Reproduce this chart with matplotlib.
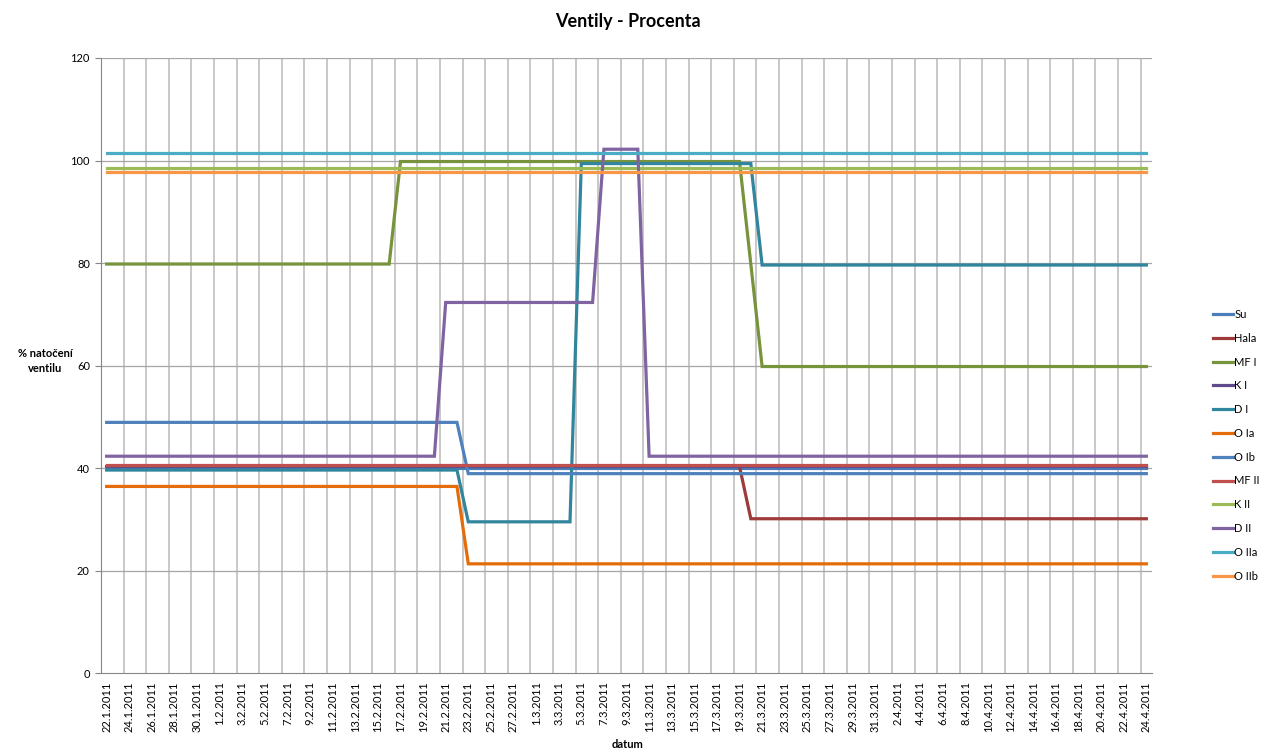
import matplotlib
matplotlib.use("Agg")
import matplotlib.pyplot as plt
import pandas as pd
import numpy as np

plt.rcParams['font.family'] = ['Lato', 'DejaVu Sans']

# ---- data ----
dates = pd.date_range("2011-01-22", "2011-04-24", freq="D")
date_labels = [f"{d.day}.{d.month}.{d.year}" for d in dates]

series_names = ["Su", "Hala", "MF I", "K I", "D I", "O Ia", "O Ib",
                "MF II", "K II", "D II", "O IIa", "O IIb"]

su    = [40.0] * 93
hala  = [40.3] * 57 + [30.1] * 36
mf1   = [79.8] * 26 + [99.8] * 31 + [79.8] * 1 + [59.8] * 35
k1    = [40.4] * 93
d1    = [39.6] * 32 + [29.5] * 10 + [99.4] * 16 + [79.6] * 35
o1a   = [36.4] * 32 + [21.3] * 61
o1b   = [48.9] * 32 + [38.9] * 61
mf2   = [40.6] * 93
k2    = [98.5] * 93
d2    = [42.3] * 30 + [72.3] * 14 + [102.2] * 4 + [42.3] * 45
o2a   = [101.5] * 93
o2b   = [97.7] * 93

values = [su, hala, mf1, k1, d1, o1a, o1b, mf2, k2, d2, o2a, o2b]
colors = ["#4A7EBB", "#9C3B3A", "#77933C", "#5F4B8B", "#31859C", "#E46C0A",
          "#4F81BD", "#C0504D", "#9BBB59", "#8064A2", "#4BACC6", "#F79646"]

yticks = [0, 20, 40, 60, 80, 100, 120]

# ---- plot ----
fig = plt.figure(figsize=(12.76, 7.52), dpi=100)
ax = fig.add_axes([101/1276, 1-673/752, (1152-101)/1276, (673-58)/752])

x = np.arange(len(dates))
handles = []
for name, vals, c in zip(series_names, values, colors):
    h, = ax.plot(x, vals, color=c, lw=2.3, label=name, solid_joinstyle='miter')
    handles.append(h)

ax.set_xlim(-0.5, len(dates) - 0.5)
ax.set_ylim(0, 120)
ax.set_yticks(yticks)
ax.set_yticklabels([str(v) for v in yticks], fontsize=8)

ax.set_xticks(x[::2])
ax.set_xticklabels(date_labels[::2], rotation=90, fontsize=8)
ax.tick_params(axis='x', length=0, pad=6)
ax.tick_params(axis='y', length=4, color='#868686', pad=4)

# gridlines
for g in np.arange(-0.5, len(dates) - 1, 2):
    ax.axvline(g, color='#BFBFBF', lw=1.2, zorder=0)
for v in yticks[1:]:
    ax.axhline(v, color='#A6A6A6', lw=0.9, zorder=0)

for s in ['top', 'right']:
    ax.spines[s].set_visible(False)
ax.spines['left'].set_color('#868686')
ax.spines['bottom'].set_color('#868686')

fig.text(628/1276, 1-22/752, "Ventily - Procenta", ha='center', va='center',
         fontsize=13, fontweight='bold')
fig.text(45/1276, 1-361/752, "% natočení\nventilu", ha='center', va='center',
         fontsize=8, fontweight='bold', linespacing=1.5)
fig.text(628/1276, 1-744/752, "datum", ha='center', va='center',
         fontsize=8, fontweight='bold')

fig.legend(handles=handles, loc='upper left',
           bbox_to_anchor=(1203/1276, 1-299/752), frameon=False,
           fontsize=8, handlelength=1.8, handletextpad=0.1,
           labelspacing=1.15)

fig.savefig("out.png", dpi=100)
